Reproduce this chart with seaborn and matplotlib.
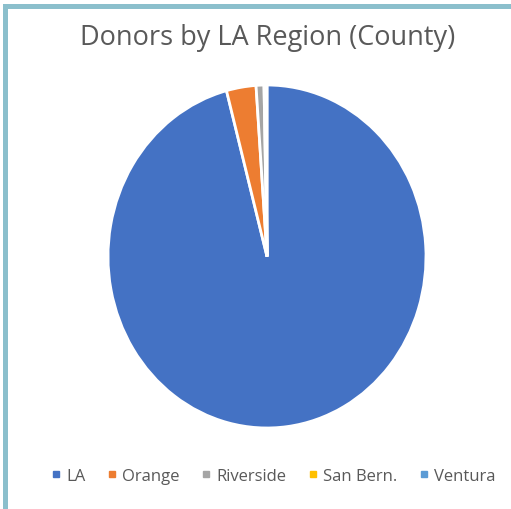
import matplotlib
matplotlib.use("Agg")
import matplotlib.pyplot as plt
import matplotlib.patches as mpatches
from matplotlib.lines import Line2D
import seaborn as sns

regions = ["LA", "Orange", "Riverside", "San Bern.", "Ventura"]
shares = [95.9, 3.0, 0.8, 0.15, 0.15]
colors = ["#4472C4", "#ED7D31", "#A5A5A5", "#FFC000", "#5B9BD5"]
title = "Donors by LA Region (County)"

sns.set_theme(style="white")
plt.rcParams["font.family"] = ["Open Sans", "DejaVu Sans"]
palette = sns.color_palette(colors)

W, H = 511, 510
fig = plt.figure(figsize=(W / 100, H / 100), dpi=100)
fig.patch.set_facecolor("white")

ax = fig.add_axes([108 / W, 1 - 429 / H, 318 / W, 343 / H])
ax.pie(shares, colors=palette, startangle=90, counterclock=False,
       wedgeprops=dict(edgecolor="white", linewidth=2))
ax.set_aspect("auto")
ax.set_xlim(-1, 1)
ax.set_ylim(-1, 1)
ax.axis("off")

fig.text(268 / W, 1 - 38 / H, title, ha="center", va="center",
         fontsize=19.5, color="#595959")

handles = [Line2D([0], [0], marker="s", linestyle="", markersize=5,
                  markerfacecolor=c, markeredgecolor=c) for c in palette]
fig.legend(handles, regions, loc="center", bbox_to_anchor=(273 / W, 1 - 477 / H),
           ncol=5, frameon=False, fontsize=12, handlelength=0.6,
           handletextpad=0.3, columnspacing=1.3, labelcolor="#595959")

border = "#8BBFCC"
fig.add_artist(mpatches.Rectangle((3 / W, 0), 5 / W, 505 / H, transform=fig.transFigure,
                                  facecolor=border, edgecolor="none"))
fig.add_artist(mpatches.Rectangle((3 / W, 500 / H), 508 / W, 5 / H, transform=fig.transFigure,
                                  facecolor=border, edgecolor="none"))

fig.savefig("out.png", dpi=100)
